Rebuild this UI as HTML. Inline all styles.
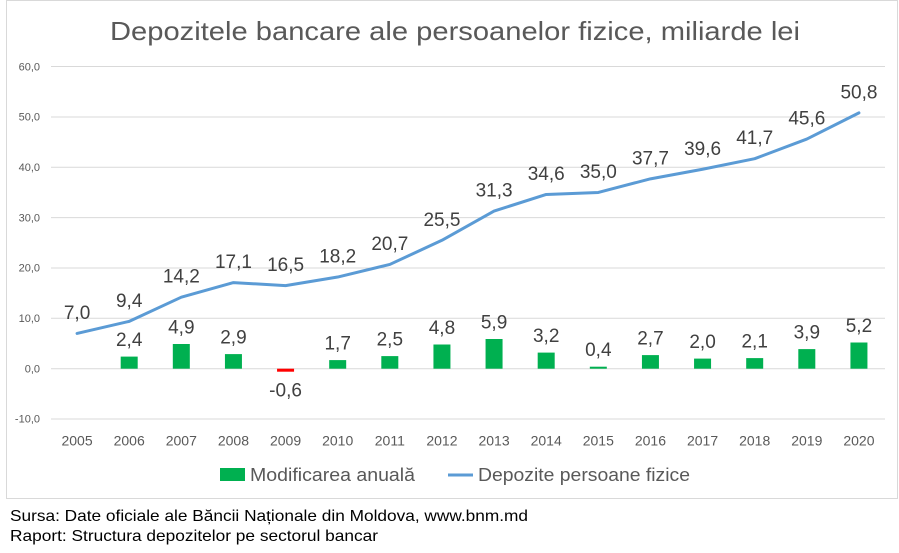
<!DOCTYPE html>
<html><head><meta charset="utf-8"><style>
html,body{margin:0;padding:0;background:#fff;}
svg{display:block;font-family:"Liberation Sans",Arial,sans-serif;}
</style></head><body>
<svg width="899" height="553" viewBox="0 0 899 553" xmlns="http://www.w3.org/2000/svg">
<rect x="0" y="0" width="899" height="553" fill="#fff"/>
<rect x="6.5" y="0.5" width="891" height="498" fill="#fff" stroke="#D9D9D9" stroke-width="1"/>
<text x="110" y="40" font-size="26" fill="#595959" textLength="690" lengthAdjust="spacingAndGlyphs">Depozitele bancare ale persoanelor fizice, miliarde lei</text>
<g stroke="#D9D9D9" stroke-width="1">
<line x1="51" x2="885" y1="66.5" y2="66.5"/>
<line x1="51" x2="885" y1="117" y2="117"/>
<line x1="51" x2="885" y1="167.3" y2="167.3"/>
<line x1="51" x2="885" y1="217.6" y2="217.6"/>
<line x1="51" x2="885" y1="268" y2="268"/>
<line x1="51" x2="885" y1="318.3" y2="318.3"/>
<line x1="51" x2="885" y1="368.7" y2="368.7"/>
<line x1="51" x2="885" y1="419" y2="419"/>
</g>
<g font-size="11" fill="#595959" text-anchor="end">
<text x="40" y="70.3">60,0</text>
<text x="40" y="120.7">50,0</text>
<text x="40" y="171">40,0</text>
<text x="40" y="221.4">30,0</text>
<text x="40" y="271.7">20,0</text>
<text x="40" y="322">10,0</text>
<text x="40" y="372.4">0,0</text>
<text x="40" y="422.7">-10,0</text>
</g>
<g font-size="14" fill="#595959" text-anchor="middle">
<text x="77.06" y="445.5">2005</text>
<text x="129.19" y="445.5">2006</text>
<text x="181.31" y="445.5">2007</text>
<text x="233.44" y="445.5">2008</text>
<text x="285.56" y="445.5">2009</text>
<text x="337.69" y="445.5">2010</text>
<text x="389.81" y="445.5">2011</text>
<text x="441.94" y="445.5">2012</text>
<text x="494.06" y="445.5">2013</text>
<text x="546.19" y="445.5">2014</text>
<text x="598.31" y="445.5">2015</text>
<text x="650.44" y="445.5">2016</text>
<text x="702.56" y="445.5">2017</text>
<text x="754.69" y="445.5">2018</text>
<text x="806.81" y="445.5">2019</text>
<text x="858.94" y="445.5">2020</text>
</g>
<g fill="#00B050">
<rect x="120.69" y="356.6" width="17" height="12.1"/>
<rect x="172.81" y="344.0" width="17" height="24.7"/>
<rect x="224.94" y="354.1" width="17" height="14.6"/>
<rect x="277.06" y="368.7" width="17" height="3.0" fill="#FF0000"/>
<rect x="329.19" y="360.1" width="17" height="8.6"/>
<rect x="381.31" y="356.1" width="17" height="12.6"/>
<rect x="433.44" y="344.5" width="17" height="24.2"/>
<rect x="485.56" y="339.0" width="17" height="29.7"/>
<rect x="537.69" y="352.6" width="17" height="16.1"/>
<rect x="589.81" y="366.7" width="17" height="2.0"/>
<rect x="641.94" y="355.1" width="17" height="13.6"/>
<rect x="694.06" y="358.6" width="17" height="10.1"/>
<rect x="746.19" y="358.1" width="17" height="10.6"/>
<rect x="798.31" y="349.1" width="17" height="19.6"/>
<rect x="850.44" y="342.5" width="17" height="26.2"/>
</g>
<polyline fill="none" stroke="#5B9BD5" stroke-width="3" stroke-linejoin="round" stroke-linecap="round"
points="77.06,333.45 129.19,321.36 181.31,297.19 233.44,282.58 285.56,285.61 337.69,277.04 389.81,264.45 441.94,240.28 494.06,211.07 546.19,194.45 598.31,192.44 650.44,178.84 702.56,169.27 754.69,158.70 806.81,139.06 858.94,112.87"/>
<g font-size="19" fill="#404040" text-anchor="middle">
<text x="77.06" y="319">7,0</text>
<text x="129.19" y="306.9">9,4</text>
<text x="181.31" y="282.7">14,2</text>
<text x="233.44" y="268.1">17,1</text>
<text x="285.56" y="271.1">16,5</text>
<text x="337.69" y="262.5">18,2</text>
<text x="389.81" y="250">20,7</text>
<text x="441.94" y="225.8">25,5</text>
<text x="494.06" y="196.6">31,3</text>
<text x="546.19" y="180">34,6</text>
<text x="598.31" y="178">35,0</text>
<text x="650.44" y="164.3">37,7</text>
<text x="702.56" y="154.8">39,6</text>
<text x="754.69" y="144.2">41,7</text>
<text x="806.81" y="124.6">45,6</text>
<text x="858.94" y="98.4">50,8</text>

<text x="129.19" y="346.1">2,4</text>
<text x="181.31" y="333.5">4,9</text>
<text x="233.44" y="343.6">2,9</text>
<text x="285.56" y="396.7">-0,6</text>
<text x="337.69" y="349.6">1,7</text>
<text x="389.81" y="345.6">2,5</text>
<text x="441.94" y="334">4,8</text>
<text x="494.06" y="328.5">5,9</text>
<text x="546.19" y="342.1">3,2</text>
<text x="598.31" y="356.2">0,4</text>
<text x="650.44" y="344.6">2,7</text>
<text x="702.56" y="348.1">2,0</text>
<text x="754.69" y="347.6">2,1</text>
<text x="806.81" y="338.6">3,9</text>
<text x="858.94" y="332">5,2</text>
</g>
<rect x="220" y="468" width="25" height="13" fill="#00B050"/>
<text x="250" y="481" font-size="18" fill="#595959" textLength="165" lengthAdjust="spacingAndGlyphs">Modificarea anuală</text>
<line x1="448" x2="473" y1="475" y2="475" stroke="#5B9BD5" stroke-width="3"/>
<text x="478" y="481" font-size="18" fill="#595959" textLength="212" lengthAdjust="spacingAndGlyphs">Depozite persoane fizice</text>
<text x="10" y="521" font-size="16" fill="#000" textLength="518" lengthAdjust="spacingAndGlyphs">Sursa: Date oficiale ale Băncii Naționale din Moldova, www.bnm.md</text>
<text x="10" y="541" font-size="16" fill="#000" textLength="368" lengthAdjust="spacingAndGlyphs">Raport: Structura depozitelor pe sectorul bancar</text>
</svg>
</body></html>
